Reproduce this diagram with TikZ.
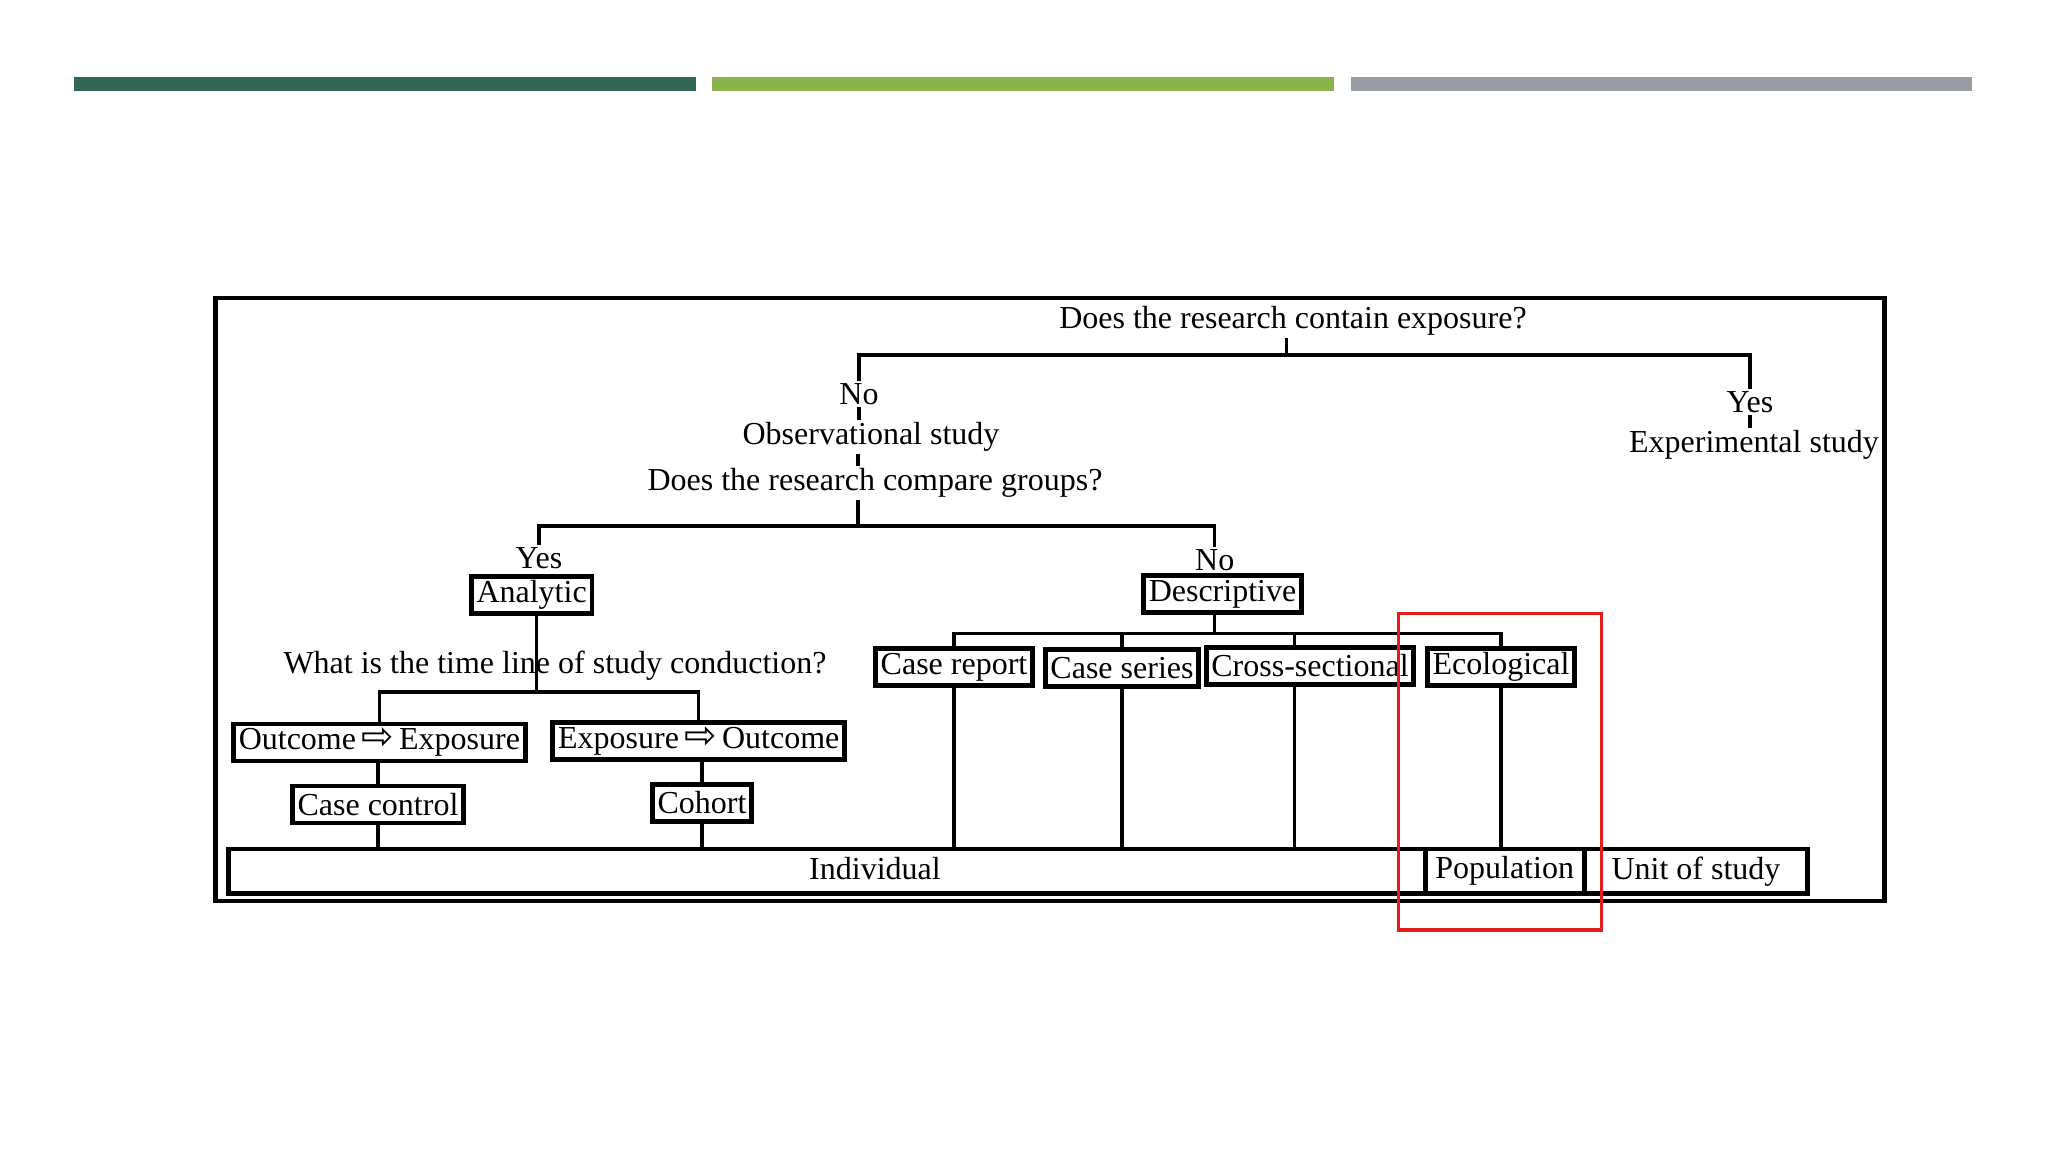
\documentclass[tikz,border=0pt]{standalone}
\usepackage{fontspec}
\setmainfont{Liberation Serif}
\newfontfamily\arrowfont{DejaVu Sans}
\definecolor{bardark}{RGB}{51,102,85}
\definecolor{barlight}{RGB}{139,179,75}
\definecolor{bargray}{RGB}{152,157,163}
\definecolor{markred}{RGB}{228,28,32}
\newcommand{\thenarrow}{{\arrowfont\fontsize{11}{11}\selectfont ⇨}}
\tikzset{
    plaintext/.style={inner xsep=1.5pt, inner ysep=0.6pt},
    studybox/.style={draw, line width=1.4pt, inner xsep=1.5pt, inner ysep=0pt, minimum height=0.37cm},
    rowbox/.style={draw, line width=1.4pt, inner sep=0pt, minimum height=0.444cm},
    branch/.style={line width=0.9pt}
}
\begin{document}
\begin{tikzpicture}[x=0.01cm, y=-0.01cm, font=\fontsize{9.1}{11}\selectfont]
    \useasboundingbox (0,0) rectangle (2048,1152);

    % Header bars
    \fill[bardark] (74.4,77) rectangle (696.2,91.4);
    \fill[barlight] (711.8,77) rectangle (1333.5,91.4);
    \fill[bargray] (1350.5,77) rectangle (1972.2,91.4);

    % Frame
    \draw[line width=1.3pt] (215.5,297.8) rectangle (1884.7,901.2);

    % Exposure question
    \node[plaintext] (q1) at (1293,321) {Does the research contain exposure?};
    \node[plaintext] (no1) at (859,394) {No};
    \node[plaintext] (yes1) at (1750,402) {Yes};
    \node[plaintext] (obs) at (871,437) {Observational study};
    \node[plaintext] (exper) at (1754,445) {Experimental study};
    \coordinate (bar1) at (1286.5,355);
    \draw[branch] (q1.south -| bar1) -- (bar1);
    \draw[branch] (no1.north) |- (bar1) -| (yes1.north);
    \draw[branch] (no1.south) -- (no1.south |- obs.north);
    \draw[branch] (yes1.south) -- (yes1.south |- exper.north);

    % Groups question
    \node[plaintext] (q2) at (875,483) {Does the research compare groups?};
    \coordinate (bar2) at (858,526);
    \draw[branch] (bar2 |- obs.south) -- (bar2 |- q2.north);
    \draw[branch] (bar2 |- q2.south) -- (bar2);
    \node[plaintext] (yesA) at (539,558) {Yes};
    \node[plaintext] (noD) at (1214.7,560) {No};
    \draw[branch] (yesA.north) |- (bar2) -| (noD.north);
    \node[studybox] (analytic) at (531.6,595) {Analytic};
    \node[studybox] (desc) at (1222.5,594) {Descriptive};

    % Analytic branch
    \node[plaintext] (q3) at (555,666) {What is the time line of study conduction?};
    \coordinate (bar3) at (536.8,692);
    \draw[branch] (analytic.south -| bar3) -- (bar3);
    \node[studybox] (oe) at (379.4,742.5) {Outcome\,\thenarrow\,Exposure};
    \node[studybox] (eo) at (698.8,741) {Exposure\,\thenarrow\,Outcome};
    \draw[branch] (oe.north) |- (bar3) -| (eo.north);
    \node[studybox] (cc) at (378,804.5) {Case control};
    \node[studybox] (cohort) at (702,803) {Cohort};
    \draw[branch] (cc.north |- oe.south) -- (cc.north);
    \draw[branch] (cohort.north |- eo.south) -- (cohort.north);

    % Descriptive branch
    \coordinate (bar4) at (1214.7,633.5);
    \coordinate (crossstub) at (1294.3,633.5);
    \draw[branch] (bar4 |- desc.south) -- (bar4);
    \node[studybox] (creport) at (954,667) {Case report};
    \node[studybox] (cseries) at (1122,668) {Case series};
    \node[studybox] (cross) at (1310,666) {Cross-sectional};
    \node[studybox] (eco) at (1501,667) {Ecological};
    \draw[branch] (creport.north) |- (bar4) -| (eco.north);
    \draw[branch] (cseries.north) -- (cseries.north |- bar4);
    \draw[branch] (crossstub) -- (crossstub |- cross.north);

    % Unit of study row
    \node[rowbox, minimum width=11.964cm] (indiv) at (826.8,871.2) {};
    \node[rowbox, minimum width=1.593cm] (pop) at (1504.65,871.2) {Population};
    \node[rowbox, minimum width=2.233cm] (unit) at (1695.95,871.2) {Unit of study};
    \node[plaintext] (indivtext) at (875,869) {Individual};
    \draw[branch] (cc.south) -- (cc.south |- indiv.north);
    \draw[branch] (cohort.south) -- (cohort.south |- indiv.north);
    \draw[branch] (creport.south) -- (creport.south |- indiv.north);
    \draw[branch] (cseries.south) -- (cseries.south |- indiv.north);
    \draw[branch] (crossstub |- cross.south) -- (crossstub |- indiv.north);
    \draw[branch] (eco.south) -- (eco.south |- pop.north);

    % Highlight
    \draw[markred, line width=0.9pt] (1398.8,613.9) rectangle (1601.3,930);
\end{tikzpicture}
\end{document}
